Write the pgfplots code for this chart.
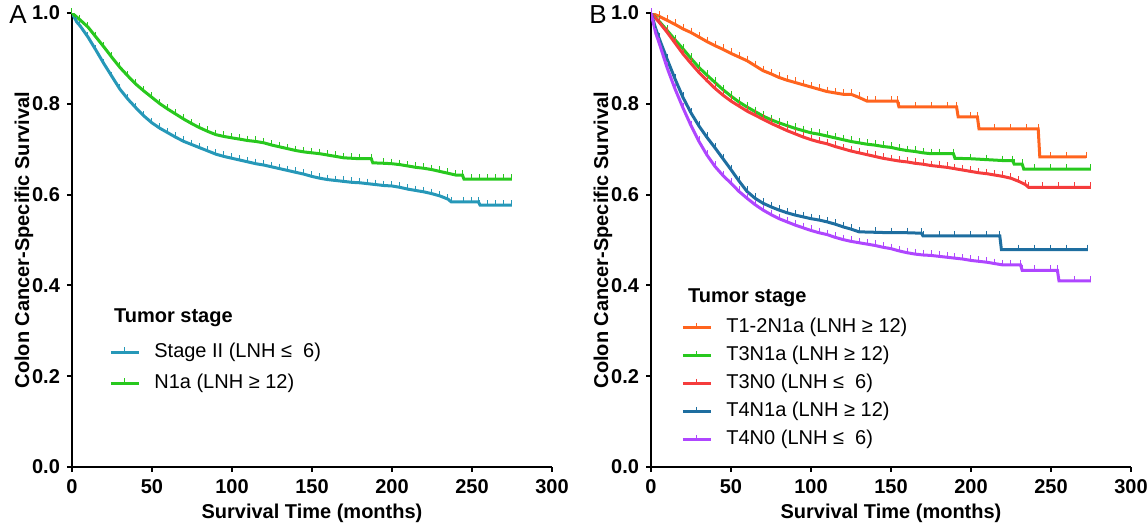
\documentclass[border=0pt]{standalone}
\usepackage{fontspec}
\setmainfont{Liberation Sans}
\usepackage{pgfplots}
\pgfplotsset{compat=1.18}

\definecolor{cteal}{RGB}{38,152,184}
\definecolor{cgreen}{RGB}{40,200,30}
\definecolor{corange}{RGB}{255,100,30}
\definecolor{cred}{RGB}{245,60,60}
\definecolor{cblue}{RGB}{30,110,160}
\definecolor{cpurple}{RGB}{175,70,255}

\newcommand{\tsize}{\fontsize{10}{12}\selectfont}

\pgfplotsset{
  km/.style={
    scale only axis, width=240pt, height=227pt,
    xmin=0, xmax=300, ymin=0, ymax=1,
    xtick={0,50,100,150,200,250,300},
    ytick={0,0.2,0.4,0.6,0.8,1},
    axis x line*=bottom, axis y line*=left,
    axis line style={-, line width=1pt},
    tick align=outside, major tick length=2.5pt,
    tick style={line width=1pt, black},
    /pgf/number format/assume math mode=true,
    ticklabel style={font=\tsize\bfseries},
    yticklabel style={/pgf/number format/.cd, fixed, fixed zerofill, precision=1},
    label style={font=\tsize\bfseries},
    xlabel={Survival Time (months)},
    ylabel={Colon Cancer-Specific Survival},
    xlabel style={at={(axis description cs:0.5,-0.101)}, anchor=center},
    ylabel style={at={(axis description cs:-0.100,0.5)}, anchor=center, rotate=0},
    legend style={draw=none, fill=none, font=\tsize, inner sep=0pt,
      nodes={inner sep=0pt, text height=7.5pt, text depth=2.5pt},
      column sep=7pt},
    legend cell align=left,
    legend image code/.code={\draw[mark repeat=2, mark phase=2, #1]
      plot coordinates {(0pt,0pt)(7pt,0pt)(14pt,0pt)};},
    every axis plot/.append style={line width=1.5pt, mark=|, mark size=1.5pt,
      mark options={line width=0.5pt, yshift=1pt}},
  }
}

\begin{document}
\begin{tikzpicture}
\useasboundingbox (0,0) rectangle (574pt,263.5pt);

% ---------------- Panel A ----------------
\begin{axis}[km, at={(36pt,30pt)}, anchor=south west,
  legend style={at={(rel axis cs:0.077,0.219)}, anchor=west, row sep=5.5pt}]
  \addplot[cteal] coordinates {
    (0,1.0)(3,0.98)(5,0.972)(10,0.947)(15,0.918)(20,0.888)(25,0.860)(30,0.832)
    (35,0.810)(40,0.791)(45,0.773)(50,0.758)(55,0.746)(60,0.736)(65,0.726)
    (70,0.717)(75,0.710)(80,0.703)(85,0.696)(90,0.689)(95,0.684)(100,0.680)
    (105,0.676)(110,0.672)(115,0.668)(120,0.665)(125,0.661)(130,0.657)
    (135,0.653)(140,0.649)(145,0.645)(150,0.640)(155,0.636)(160,0.633)
    (165,0.631)(170,0.629)(175,0.627)(180,0.626)(185,0.624)(190,0.622)
    (195,0.620)(200,0.619)(205,0.616)(210,0.612)(215,0.609)(220,0.606)
    (225,0.602)(230,0.597)(235,0.590)(237,0.584)(245,0.584)(250,0.584)
    (254,0.584)(255,0.577)(260,0.577)(265,0.577)(270,0.577)(275,0.577)
  };
  \addlegendentry{Stage II (LNH ≤ \ 6)}
  \addplot[cgreen] coordinates {
    (0,1.0)(5,0.985)(10,0.969)(15,0.947)(20,0.925)(25,0.902)(30,0.880)
    (35,0.861)(40,0.843)(45,0.828)(50,0.814)(55,0.800)(60,0.788)(65,0.777)
    (70,0.766)(75,0.756)(80,0.747)(85,0.739)(90,0.732)(95,0.728)(100,0.725)
    (105,0.722)(110,0.719)(115,0.717)(120,0.714)(125,0.709)(130,0.705)
    (135,0.701)(140,0.697)(145,0.694)(150,0.692)(155,0.690)(160,0.687)
    (165,0.684)(170,0.681)(175,0.680)(180,0.679)(187,0.679)(188,0.670)
    (195,0.669)(200,0.668)(205,0.666)(210,0.663)(215,0.660)(220,0.658)
    (225,0.655)(230,0.651)(235,0.647)(240,0.643)(244,0.643)(245,0.634)
    (250,0.634)(255,0.634)(260,0.634)(265,0.634)(270,0.634)(275,0.634)
  };
  \addlegendentry{N1a (LNH ≥ 12)}
  \node[anchor=west, font=\tsize\bfseries] at (rel axis cs:0.073,0.328) {Tumor stage};
\end{axis}

% ---------------- Panel B ----------------
\begin{axis}[km, at={(325.5pt,30pt)}, anchor=south west,
  legend style={at={(rel axis cs:0.0625,0.183)}, anchor=west, row sep=4pt}]
  \addplot[corange] coordinates {
    (0,1.0)(5,0.993)(10,0.984)(15,0.975)(20,0.965)(25,0.957)(30,0.947)
    (35,0.937)(40,0.928)(45,0.920)(50,0.911)(55,0.903)(60,0.895)(65,0.884)
    (70,0.873)(75,0.866)(80,0.858)(85,0.852)(90,0.847)(95,0.842)(100,0.837)
    (105,0.832)(110,0.827)(115,0.824)(120,0.821)(125,0.821)(130,0.814)
    (135,0.806)(140,0.806)(150,0.806)(154,0.806)(155,0.793)(165,0.793)
    (175,0.793)(185,0.793)(191,0.793)(192,0.771)(200,0.771)(204,0.771)
    (205,0.745)(215,0.745)(225,0.745)(235,0.745)(242,0.745)(243,0.683)
    (250,0.683)(260,0.683)(272,0.683)
  };
  \addlegendentry{T1-2N1a (LNH ≥ 12)}
  \addplot[cgreen] coordinates {
    (0,1.0)(5,0.982)(10,0.962)(15,0.941)(20,0.921)(25,0.900)(30,0.880)
    (35,0.863)(40,0.847)(45,0.831)(50,0.817)(55,0.804)(60,0.793)(65,0.783)
    (70,0.773)(75,0.765)(80,0.758)(85,0.752)(90,0.746)(95,0.741)(100,0.736)
    (105,0.733)(110,0.729)(115,0.725)(120,0.721)(125,0.717)(130,0.714)
    (135,0.711)(140,0.709)(145,0.706)(150,0.704)(155,0.700)(160,0.697)
    (165,0.695)(170,0.692)(175,0.690)(180,0.690)(189,0.690)(190,0.680)
    (200,0.679)(210,0.677)(220,0.675)(226,0.675)(227,0.667)(232,0.667)
    (233,0.656)(240,0.656)(250,0.656)(260,0.656)(275,0.656)
  };
  \addlegendentry{T3N1a (LNH ≥ 12)}
  \addplot[cred] coordinates {
    (0,1.0)(5,0.980)(10,0.958)(15,0.934)(20,0.910)(25,0.889)(30,0.869)
    (35,0.851)(40,0.834)(45,0.819)(50,0.806)(55,0.795)(60,0.784)(65,0.775)
    (70,0.766)(75,0.757)(80,0.749)(85,0.741)(90,0.734)(95,0.727)(100,0.721)
    (105,0.716)(110,0.712)(115,0.706)(120,0.701)(125,0.696)(130,0.692)
    (135,0.688)(140,0.684)(145,0.680)(150,0.677)(155,0.674)(160,0.672)
    (165,0.669)(170,0.667)(175,0.664)(180,0.662)(185,0.660)(190,0.657)
    (195,0.654)(200,0.651)(205,0.648)(210,0.646)(215,0.643)(220,0.640)
    (225,0.636)(230,0.629)(234,0.622)(236,0.616)(245,0.616)(255,0.616)
    (265,0.616)(275,0.616)
  };
  \addlegendentry{T3N0 (LNH ≤ \ 6)}
  \addplot[cblue] coordinates {
    (0,1.0)(3,0.965)(5,0.945)(10,0.899)(15,0.855)(20,0.814)(25,0.780)
    (30,0.751)(35,0.726)(40,0.703)(45,0.679)(50,0.655)(55,0.630)(60,0.607)
    (65,0.592)(70,0.581)(75,0.573)(80,0.566)(85,0.560)(90,0.555)(95,0.551)
    (100,0.547)(105,0.544)(110,0.540)(115,0.535)(120,0.529)(125,0.524)
    (130,0.518)(140,0.517)(150,0.516)(160,0.516)(169,0.515)(170,0.509)
    (180,0.509)(190,0.509)(200,0.509)(210,0.509)(218,0.509)(219,0.479)
    (230,0.479)(240,0.479)(250,0.479)(260,0.479)(273,0.479)
  };
  \addlegendentry{T4N1a (LNH ≥ 12)}
  \addplot[cpurple] coordinates {
    (0,1.0)(3,0.955)(5,0.935)(10,0.880)(15,0.833)(20,0.791)(25,0.752)
    (30,0.717)(35,0.687)(40,0.662)(45,0.642)(50,0.625)(55,0.607)(60,0.592)
    (65,0.578)(70,0.566)(75,0.556)(80,0.547)(85,0.540)(90,0.533)(95,0.527)
    (100,0.521)(105,0.516)(110,0.512)(115,0.506)(120,0.501)(125,0.497)
    (130,0.494)(135,0.491)(140,0.488)(145,0.484)(150,0.481)(155,0.476)
    (160,0.472)(165,0.469)(170,0.467)(175,0.466)(180,0.464)(185,0.462)
    (190,0.460)(195,0.458)(200,0.455)(205,0.453)(210,0.451)(215,0.448)
    (220,0.445)(225,0.445)(231,0.445)(232,0.433)(240,0.433)(250,0.433)
    (254,0.433)(255,0.410)(265,0.410)(275,0.410)
  };
  \addlegendentry{T4N0 (LNH ≤ \ 6)}
  \node[anchor=west, font=\tsize\bfseries] at (rel axis cs:0.0625,0.372) {Tumor stage};
\end{axis}

\node[font=\fontsize{13}{15}\selectfont] at (9pt,256pt) {A};
\node[font=\fontsize{13}{15}\selectfont] at (299pt,256pt) {B};
\end{tikzpicture}
\end{document}
